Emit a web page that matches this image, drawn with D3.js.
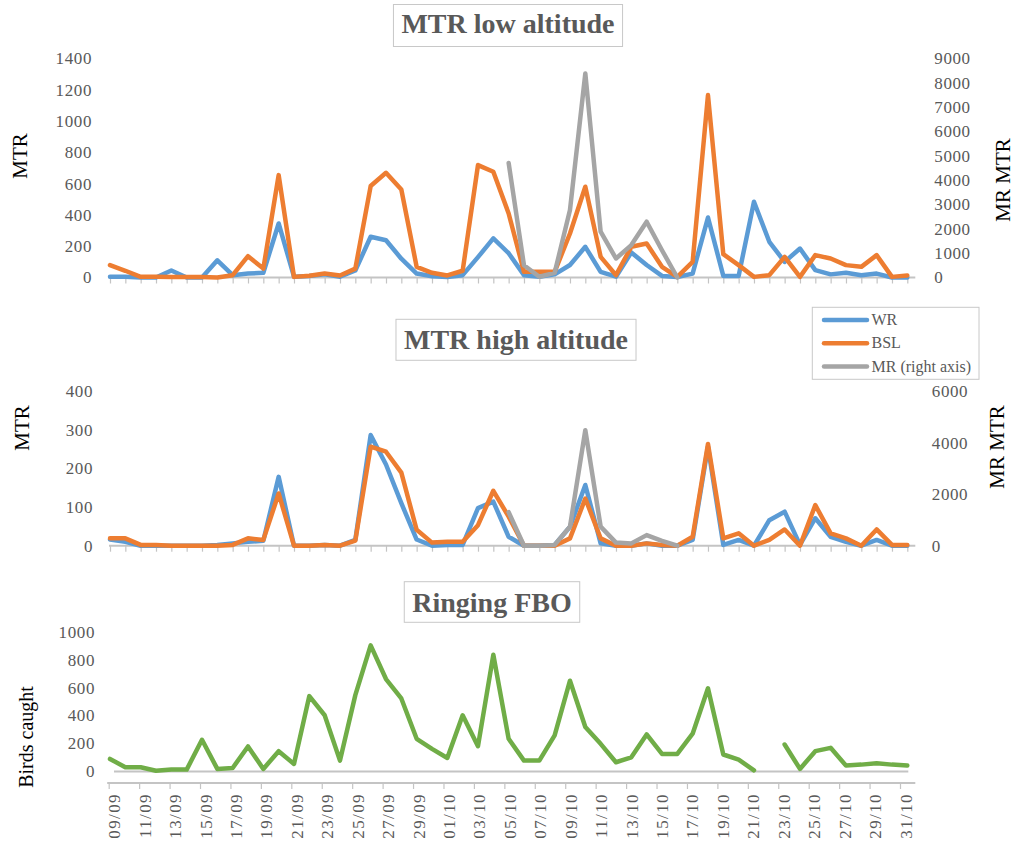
<!DOCTYPE html>
<html lang="en">
<head>
<meta charset="UTF-8">
<title>MTR low / high altitude and ringing FBO</title>
<script src="https://cdn.jsdelivr.net/npm/d3@7"></script>
<style>
  body { margin: 0; background: #fff; }
  svg text { font-family: "Liberation Serif", "Times New Roman", serif; }
  .num { fill: #595959; font-size: 17px; letter-spacing: 0.6px; }
  .date { fill: #595959; font-size: 17px; letter-spacing: 1.4px; }
  .ttl { fill: #595959; font-size: 28px; font-weight: bold; }
  .ax-title { fill: #000; font-size: 21px; }
  .leg { fill: #595959; font-size: 16px; }
</style>
</head>
<body>
<div id="chart"></div>
<script>
// ---------- data ----------
const dates = ["09/09","10/09","11/09","12/09","13/09","14/09","15/09","16/09","17/09","18/09",
  "19/09","20/09","21/09","22/09","23/09","24/09","25/09","26/09","27/09","28/09","29/09","30/09",
  "01/10","02/10","03/10","04/10","05/10","06/10","07/10","08/10","09/10","10/10","11/10","12/10",
  "13/10","14/10","15/10","16/10","17/10","18/10","19/10","20/10","21/10","22/10","23/10","24/10",
  "25/10","26/10","27/10","28/10","29/10","30/10","31/10"];

const wrLow  = [5,5,0,0,45,0,0,110,15,25, 30,345,5,10,20,5,45,260,238,120, 25,8,3,15,130,250,155,15,5,20,
  80,196,36,5,160,80,10,3,25,383, 10,10,484,228,100,185,47,20,30,15, 25,0,0];
const bslLow = [79,43,4,4,3,3,3,0,15,136, 57,654,4,11,26,13,57,584,669,562, 68,30,13,43,718,675,409,36,36,36,
  281,580,132,15,196,217,68,4,100,1165, 149,79,4,15,132,4,143,121,79,68, 143,4,13];
const mrLow  = [null,null,null,null,null,null,null,null,null,null, null,null,null,null,null,null,null,null,null,null,
  null,null,null,null,null,null,4700,500,30,190, 2770,8380,1880,780,1330,2290,1120,0,null,null,
  null,null,null,null,null,null,null,null,null,null, null,null,null];

const wrHigh  = [16,10,0,0,0,0,0,2,6,10, 13,178,0,0,2,0,15,286,210,110, 16,0,2,2,97,114,23,0,0,2,
  49,157,6,0,0,6,0,0,15,256, 2,15,0,66,88,2,71,23,10,0, 15,0,0];
const bslHigh = [19,19,2,2,0,0,0,0,2,19, 15,135,0,0,2,0,13,256,243,189, 41,8,10,10,53,142,75,0,0,0,
  19,122,19,0,0,6,2,0,23,263, 19,32,0,15,42,0,105,32,19,0, 42,2,2];
const mrHigh  = [null,null,null,null,null,null,null,null,null,null, null,null,null,null,null,null,null,null,null,null,
  null,null,null,null,null,null,1300,0,0,30, 740,4480,740,120,90,410,190,0,null,null,
  null,null,null,null,null,null,null,null,null,null, null,null,null];

const ringing = [87,27,27,2,10,10,225,15,22,177, 15,143,51,540,402,75,547,906,663,523,
  232,160,94,402,179,838,232,75,75,257, 651,317,196,63,99,264,123,123,269,596,
  119,82,5,null,191,15,143,167,39,46, 56,46,39];

const lowLeftTicks   = [0,200,400,600,800,1000,1200,1400];
const lowRightTicks  = [0,1000,2000,3000,4000,5000,6000,7000,8000,9000];
const highLeftTicks  = [0,100,200,300,400];
const highRightTicks = [0,2000,4000,6000];
const ringTicks      = [0,200,400,600,800,1000];
const labelDates = dates.filter((d, i) => i % 2 === 0);

const seriesNames  = ["WR", "BSL", "MR (right axis)"];
const seriesColors = ["#5B9BD5", "#ED7D31", "#A5A5A5"];

// ---------- setup ----------
const W = 1014, H = 843;
const svg = d3.select("#chart").append("svg").attr("width", W).attr("height", H);
svg.append("rect").attr("width", W).attr("height", H).attr("fill", "#fff");

const x = d3.scalePoint().domain(dates).range([110, 907.3]);
const axisGray = "#c4c4c4";
const fmt = d3.format("d");

function drawLine(g, values, yScale, color) {
  const line = d3.line()
    .defined(d => d != null)
    .x((d, i) => x(dates[i]))
    .y(d => yScale(d));
  g.append("path")
    .attr("d", line(values))
    .attr("fill", "none")
    .attr("stroke", color)
    .attr("stroke-width", 4.5)
    .attr("stroke-linejoin", "round")
    .attr("stroke-linecap", "round");
}

function styleAxis(g) {
  g.select(".domain").remove();
  g.selectAll("text").attr("class", "num").attr("font-family", null).attr("font-size", null).attr("fill", null);
}

function titleBox(text, cx, baseY, top, h) {
  const t = svg.append("text").attr("class", "ttl")
    .attr("x", cx).attr("y", baseY).attr("text-anchor", "middle").text(text);
  const bb = t.node().getBBox();
  svg.insert("rect", () => t.node())
    .attr("x", bb.x - 8).attr("y", top)
    .attr("width", bb.width + 16).attr("height", h)
    .attr("fill", "#fff").attr("stroke", "#c8c8c8").attr("stroke-width", 1);
}

function axisTitle(text, xPos, yPos, size) {
  svg.append("text").attr("class", "ax-title")
    .attr("transform", `translate(${xPos},${yPos}) rotate(-90)`)
    .attr("text-anchor", "middle")
    .style("font-size", size ? size + "px" : null)
    .text(text);
}

// daily category axis for the MTR panels
function dayAxis(y0) {
  const g = svg.append("g").attr("transform", `translate(0,${y0})`);
  g.call(d3.axisBottom(x).tickSize(6).tickSizeOuter(0).tickFormat(""));
  g.select(".domain").remove();
  g.selectAll(".tick line").attr("stroke", axisGray).attr("stroke-width", 1.2);
  g.append("line")
    .attr("x1", x.range()[0] - 1).attr("x2", x.range()[1] + 8)
    .attr("stroke", axisGray).attr("stroke-width", 2);
}

function mtrPanel(cfg) {
  const yL = d3.scaleLinear().domain([0, d3.max(cfg.leftTicks)]).range(cfg.yRange);
  const yR = d3.scaleLinear().domain([0, d3.max(cfg.rightTicks)]).range(cfg.yRange);

  const gl = svg.append("g").attr("transform", `translate(${x.range()[0]},0)`)
    .call(d3.axisLeft(yL).tickValues(cfg.leftTicks).tickFormat(fmt).tickSize(0).tickPadding(cfg.padL));
  styleAxis(gl);
  const gr = svg.append("g").attr("transform", `translate(${x.range()[1]},0)`)
    .call(d3.axisRight(yR).tickValues(cfg.rightTicks).tickFormat(fmt).tickSize(0).tickPadding(cfg.padR));
  styleAxis(gr);

  dayAxis(yL(0));

  const g = svg.append("g");
  drawLine(g, cfg.wr, yL, seriesColors[0]);
  drawLine(g, cfg.bsl, yL, seriesColors[1]);
  drawLine(g, cfg.mr, yR, seriesColors[2]);
}

// ---------- panel 1: MTR low altitude ----------
titleBox("MTR low altitude", 508, 33, 4.5, 42);
mtrPanel({ wr: wrLow, bsl: bslLow, mr: mrLow,
  leftTicks: lowLeftTicks, rightTicks: lowRightTicks,
  yRange: [277.5, 58.3], padL: 18, padR: 27 });
axisTitle("MTR", 27, 156);
axisTitle("MR MTR", 1010, 180);

// ---------- panel 2: MTR high altitude ----------
titleBox("MTR high altitude", 516, 349, 319.3, 41);
mtrPanel({ wr: wrHigh, bsl: bslHigh, mr: mrHigh,
  leftTicks: highLeftTicks, rightTicks: highRightTicks,
  yRange: [545.7, 391], padL: 17, padR: 24.5 });
axisTitle("MTR", 29, 428);
axisTitle("MR MTR", 1004, 447);

// legend
const leg = svg.append("g");
leg.append("rect").attr("x", 812.3).attr("y", 307.3).attr("width", 166.7).attr("height", 72)
  .attr("fill", "#fff").attr("stroke", "#c8c8c8");
seriesNames.forEach((name, i) => {
  const ly = 320 + i * 23.3;
  leg.append("line").attr("x1", 824).attr("x2", 867).attr("y1", ly).attr("y2", ly)
    .attr("stroke", seriesColors[i]).attr("stroke-width", 4.5).attr("stroke-linecap", "round");
  leg.append("text").attr("class", "leg").attr("x", 871.5).attr("y", ly + 5).text(name);
});

// ---------- panel 3: Ringing FBO ----------
titleBox("Ringing FBO", 492, 611.5, 581.7, 40.6);
const yG = d3.scaleLinear().domain([0, 1000]).range([771, 632.3]);
const g3 = svg.append("g").attr("transform", `translate(${x.range()[0]},0)`)
  .call(d3.axisLeft(yG).tickValues(ringTicks).tickFormat(fmt).tickSize(0).tickPadding(15));
styleAxis(g3);
svg.append("line")
  .attr("x1", x.range()[0] + 4).attr("x2", x.range()[1] + 1)
  .attr("y1", yG(0) + 0.5).attr("y2", yG(0) + 0.5)
  .attr("stroke", axisGray).attr("stroke-width", 2);
drawLine(svg.append("g"), ringing, yG, "#70AD47");
axisTitle("Birds caught", 33, 737, 20);

// date axis (every second day)
const xLab = d3.scalePoint().domain(labelDates).range([108.7, 900]);
const gx = svg.append("g").attr("transform", "translate(0,783)");
gx.call(d3.axisBottom(xLab).tickSize(6).tickSizeOuter(0).tickFormat(""));
gx.select(".domain").remove();
gx.selectAll(".tick line").attr("stroke", axisGray).attr("stroke-width", 1.2);
gx.append("line").attr("x1", xLab.range()[0] - 1.5).attr("x2", x.range()[1] + 8)
  .attr("stroke", axisGray).attr("stroke-width", 2);
svg.append("g").selectAll("text")
  .data(labelDates)
  .join("text")
  .attr("class", "date")
  .attr("transform", d => `translate(${xLab(d) + 11.5},793) rotate(-90)`)
  .attr("text-anchor", "end")
  .text(d => d);
</script>
</body>
</html>
